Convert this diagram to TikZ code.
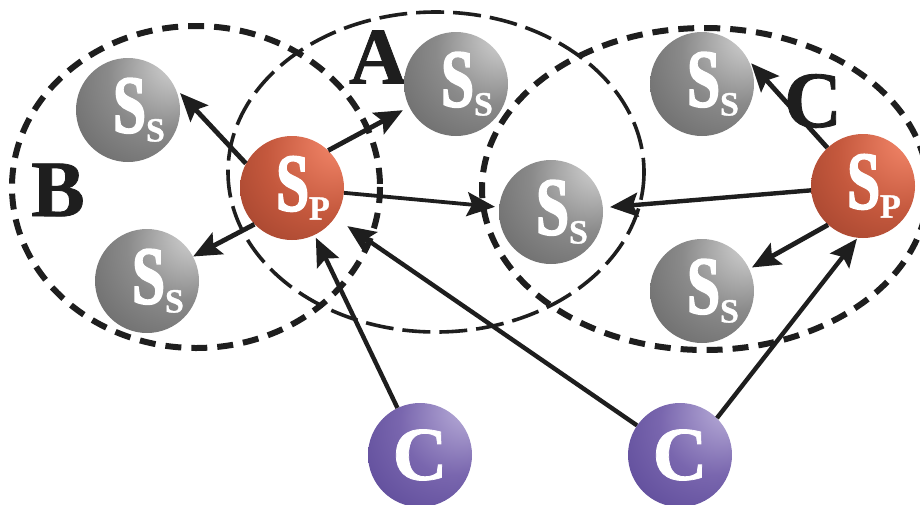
\documentclass[tikz,border=0pt]{standalone}
\usepackage{fontspec}
\usepackage{xcolor}
\usepackage{tikz}
\usetikzlibrary{arrows.meta}
\newfontfamily\ballfont[FakeStretch=0.72,FakeBold=2.2]{Liberation Serif}
\newfontfamily\plainfont[FakeBold=1]{Liberation Serif}
\definecolor{ink}{HTML}{1E1E1E}
\definecolor{greyhi}{HTML}{D2D2D2}
\definecolor{greymid}{HTML}{8A8A8A}
\definecolor{greylo}{HTML}{424242}
\definecolor{redhi}{HTML}{F4876A}
\definecolor{redmid}{HTML}{C4583D}
\definecolor{redlo}{HTML}{782A1A}
\definecolor{violethi}{HTML}{B8ADD8}
\definecolor{violetmid}{HTML}{7966AE}
\definecolor{violetlo}{HTML}{3A2880}
\pgfdeclareradialshading{greyball}{\pgfpoint{26bp}{26bp}}{color(0bp)=(greyhi); color(3bp)=(greyhi); color(26bp)=(greymid); color(70bp)=(greylo)}
\pgfdeclareradialshading{redball}{\pgfpoint{26bp}{26bp}}{color(0bp)=(redhi); color(3bp)=(redhi); color(28bp)=(redmid); color(70bp)=(redlo)}
\pgfdeclareradialshading{violetball}{\pgfpoint{26bp}{26bp}}{color(0bp)=(violethi); color(3bp)=(violethi); color(26bp)=(violetmid); color(70bp)=(violetlo)}
\newcommand{\Sname}[1]{\hspace*{22pt}{\ballfont\bfseries\fontsize{82}{82}\selectfont S}\raisebox{-9pt}{\plainfont\bfseries\fontsize{34}{34}\selectfont #1}}
\tikzset{
  ball/.style={circle, minimum size=104pt, inner sep=0pt, text=white},
  ssball/.style={ball, shading=greyball},
  spball/.style={ball, shading=redball},
  cball/.style={ball, shading=violetball, font=\plainfont\bfseries\fontsize{76}{76}\selectfont},
  link/.style={-{Stealth[length=28pt,width=24pt,inset=5pt]}, line width=4.8pt, draw=ink},
  ring/.style={line width=6pt, draw=ink, dash pattern=on 16pt off 10pt},
  zone/.style={line width=3.6pt, draw=ink, dash pattern=on 28pt off 9pt},
  tag/.style={text=ink, font=\plainfont\bfseries\fontsize{80}{80}\selectfont}
}

\begin{document}
\begin{tikzpicture}[x=1pt,y=-1pt]
  \useasboundingbox (0,0) rectangle (920,504);

  % groups
  \draw[ring] (196,187) ellipse [x radius=184, y radius=161];
  \draw[zone] (436,172) ellipse [x radius=208, y radius=160];
  \draw[ring] (705,189) ellipse [x radius=223, y radius=161];
  \node[tag] (tagA) at (378,57) {A};
  \node[tag] (tagB) at (58,190) {B};
  \node[tag] (tagC) at (813,101) {C};

  % stations
  \node[ssball] (sstl) at (128,110) {\Sname{S}};
  \node[ssball] (ssbl) at (147,281) {\Sname{S}};
  \node[spball] (spl)  at (292,188) {\Sname{P}};
  \node[ssball] (sstm) at (456,84)  {\Sname{S}};
  \node[ssball] (ssm)  at (551,212) {\Sname{S}};
  \node[ssball] (sstr) at (702,84)  {\Sname{S}};
  \node[ssball] (ssbr) at (702,291) {\Sname{S}};
  \node[spball] (spr)  at (863,186) {\Sname{P}};
  \node[cball]  (cl)   at (420,455) {C};
  \node[cball]  (cr)   at (680,455) {C};

  % links
  \draw[link, shorten >=7pt] (spl.152) -- (sstl.25);
  \draw[link] (spl.224) -- (ssbl.28);
  \draw[link, shorten >=7pt] (spl.46) -- (sstm.206);
  \draw[link, line width=3.8pt, shorten >=4pt] (spl) -- (ssm);
  \draw[link, shorten >=4pt] (spr.133) -- (sstr.27);
  \draw[link, line width=4.4pt, shorten >=7pt] (spr) -- (ssm);
  \draw[link, shorten >=3pt] (spr.228) -- (ssbr.25);
  \draw[link, line width=4.4pt, shorten >=3pt] (cl) -- (spl);
  \draw[link, line width=4.4pt, shorten >=15pt] (cr) -- (spl);
  \draw[link, line width=4.4pt, shorten >=1pt] (cr.45) -- (spr.264);
\end{tikzpicture}
\end{document}
